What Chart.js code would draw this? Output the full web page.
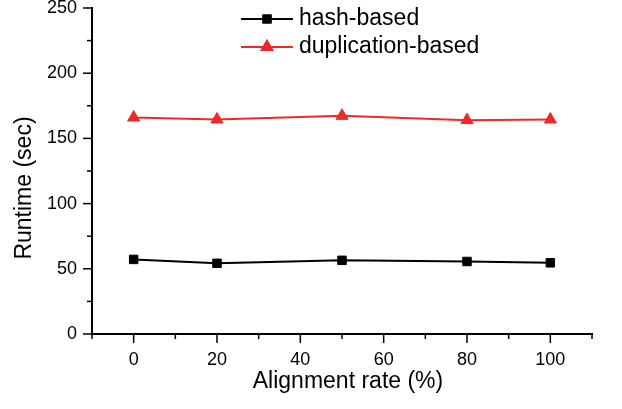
<!DOCTYPE html>
<html><head><meta charset="utf-8">
<script src="https://cdn.jsdelivr.net/npm/chart.js@4/dist/chart.umd.min.js"></script>
<style>html,body{margin:0;padding:0;background:#fff}canvas{display:block}</style>
</head><body>
<canvas id="c" width="622" height="409"></canvas>
<script>
const alignmentRates = [0, 20, 50, 80, 100];
const hashBased = [57.2, 54.2, 56.5, 55.6, 54.6];
const duplicationBased = [166, 164.5, 167.3, 164, 164.5];
const seriesNames = ['hash-based', 'duplication-based'];
const xTickLabels = [0, 20, 40, 60, 80, 100];
const yTickLabels = [0, 50, 100, 150, 200, 250];
const xTitle = 'Alignment rate (%)';
const yTitle = 'Runtime (sec)';

const FONT = '"Liberation Sans", Arial, sans-serif';
const RED = '#ec2a2a';

const axisDecor = {
  id: 'axisDecor',
  afterDraw(chart) {
    const { ctx, chartArea: a, scales: { x, y } } = chart;
    ctx.save();
    ctx.strokeStyle = '#000';
    ctx.lineWidth = 1.5;
    for (let v = -10; v <= 110; v += 10) {
      const px = x.getPixelForValue(v);
      const len = v % 20 === 0 ? 9 : 5;
      ctx.beginPath(); ctx.moveTo(px, a.bottom); ctx.lineTo(px, a.bottom + len); ctx.stroke();
    }
    for (let v = 0; v <= 250; v += 25) {
      const py = y.getPixelForValue(v);
      const len = v % 50 === 0 ? 9 : 5;
      ctx.beginPath(); ctx.moveTo(a.left, py); ctx.lineTo(a.left - len, py); ctx.stroke();
    }
    ctx.fillStyle = '#000';
    ctx.font = '23px ' + FONT;
    ctx.textAlign = 'center';
    ctx.textBaseline = 'alphabetic';
    ctx.fillText(xTitle, (a.left + a.right) / 2 + 6, 388);
    ctx.save();
    ctx.translate(31, 188);
    ctx.rotate(-Math.PI / 2);
    ctx.fillText(yTitle, 0, 0);
    ctx.restore();
    // legend
    const rows = [19, 47];
    chart.data.datasets.forEach((ds, i) => {
      const yy = rows[i];
      ctx.strokeStyle = ds.borderColor;
      ctx.lineWidth = 2;
      ctx.beginPath(); ctx.moveTo(241, yy); ctx.lineTo(293, yy); ctx.stroke();
      Chart.helpers.drawPoint(ctx, {
        pointStyle: ds.pointStyle, radius: ds.pointRadius * 0.85, rotation: 0, borderWidth: 1
      }, 267, yy);
      ctx.fillStyle = ds.pointBackgroundColor;
      ctx.strokeStyle = ds.pointBorderColor;
      ctx.fill(); ctx.stroke();
      ctx.fillStyle = '#000';
      ctx.font = '23px ' + FONT;
      ctx.textAlign = 'left';
      ctx.textBaseline = 'middle';
      ctx.fillText(ds.label, 299, yy);
    });
    ctx.restore();
  }
};

new Chart(document.getElementById('c'), {
  type: 'line',
  data: {
    datasets: [
      {
        label: seriesNames[0],
        data: alignmentRates.map((v, i) => ({ x: v, y: hashBased[i] })),
        borderColor: '#000', backgroundColor: '#000',
        pointBackgroundColor: '#000', pointBorderColor: '#000',
        borderWidth: 2, pointStyle: 'rect', pointRadius: 6, pointBorderWidth: 1
      },
      {
        label: seriesNames[1],
        data: alignmentRates.map((v, i) => ({ x: v, y: duplicationBased[i] })),
        borderColor: RED, backgroundColor: RED,
        pointBackgroundColor: RED, pointBorderColor: RED,
        borderWidth: 2, pointStyle: 'triangle', pointRadius: 7, pointBorderWidth: 1
      }
    ]
  },
  options: {
    responsive: false,
    animation: false,
    events: [],
    layout: { padding: { left: 0, top: 8, right: 30, bottom: 0 } },
    plugins: { legend: { display: false }, tooltip: { enabled: false } },
    scales: {
      x: {
        type: 'linear', min: -10, max: 110,
        afterFit(s) { s.height = 75; s.paddingLeft = 0; s.paddingRight = 0; },
        border: { display: true, color: '#000', width: 2 },
        grid: { display: true, drawOnChartArea: false, drawTicks: true, tickLength: 9, tickColor: 'rgba(0,0,0,0)' },
        ticks: {
          stepSize: 10, autoSkip: false, maxRotation: 0, padding: 6, color: '#000',
          font: { size: 18, family: FONT },
          callback: (v) => xTickLabels.includes(v) ? String(v) : ''
        }
      },
      y: {
        type: 'linear', min: 0, max: 250,
        afterFit(s) { s.width = 92; s.paddingTop = 0; s.paddingBottom = 0; },
        border: { display: true, color: '#000', width: 2 },
        grid: { display: true, drawOnChartArea: false, drawTicks: true, tickLength: 9, tickColor: 'rgba(0,0,0,0)' },
        ticks: {
          stepSize: 25, autoSkip: false, padding: 6, color: '#000',
          font: { size: 18, family: FONT },
          callback: (v) => yTickLabels.includes(v) ? String(v) : ''
        }
      }
    }
  },
  plugins: [axisDecor]
});
</script>
</body></html>
